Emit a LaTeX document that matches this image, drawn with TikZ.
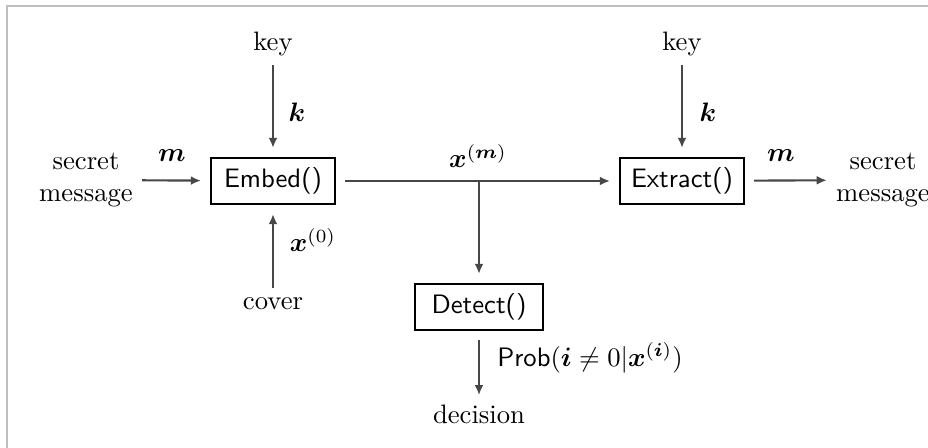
\documentclass[tikz,border=0pt]{standalone}
\usepackage{bm}
\usetikzlibrary{arrows.meta}
\begin{document}
\begin{tikzpicture}[x=0.375pt,y=-0.375pt,
  conn/.style={draw=black!72,line width=0.8pt,-{Latex[length=3.8pt,width=3.3pt]}},
  fnbox/.style={draw=black,line width=0.95pt,minimum width=46.5pt,minimum height=17.3pt,
                inner sep=0pt,outer sep=3.75pt,font=\sffamily},
  lbl/.style={inner sep=0pt},
  txt/.style={align=center}]
\useasboundingbox (0,0) rectangle (928,448);
% page frame
\draw[black!25,line width=0.6pt] (7,448) -- (7,6) -- (928,6);

% processing blocks
\node[fnbox] (embed) at (273,181) {Embed()};
\node[fnbox] (extract) at (682,181) {Extract()};
\node[fnbox,minimum width=48pt] (detect) at (479,307) {Detect()};

% inputs and outputs
\node[txt] (msgin) at (86,180) {secret\\message};
\node[txt] (msgout) at (883,180) {secret\\message};
\node (keyL) at (273,44) {key};
\node (keyR) at (682,44) {key};
\node (cover) at (273,304) {cover};
\node (decision) at (479,414) {decision};
\coordinate (split) at (detect |- embed);

% connectors
\draw[conn] (msgin) -- (embed);
\draw[conn] (keyL) -- (embed);
\draw[conn] (cover) -- (embed);
\draw[conn] (embed) -- (extract);
\draw[conn] (keyR) -- (extract);
\draw[conn] (extract) -- (msgout);
\draw[conn] (split) -- (detect);
\draw[conn] (detect) -- (decision);

% labels
\node[lbl] (lm1) at (172,156) {$\bm{m}$};
\node[lbl] (lk1) at (297,112) {$\bm{k}$};
\node[lbl] (lx0) at (313,240) {$\bm{x}^{(0)}$};
\node[lbl] (lxm) at (478,156) {$\bm{x}^{(\bm{m})}$};
\node[lbl] (lk2) at (708,112) {$\bm{k}$};
\node[lbl] (lm2) at (781,156) {$\bm{m}$};
\node[lbl] (lprob) at (590,358) {\textsf{Prob}$(\bm{i}\neq 0|\bm{x}^{(\bm{i})})$};
\end{tikzpicture}
\end{document}
